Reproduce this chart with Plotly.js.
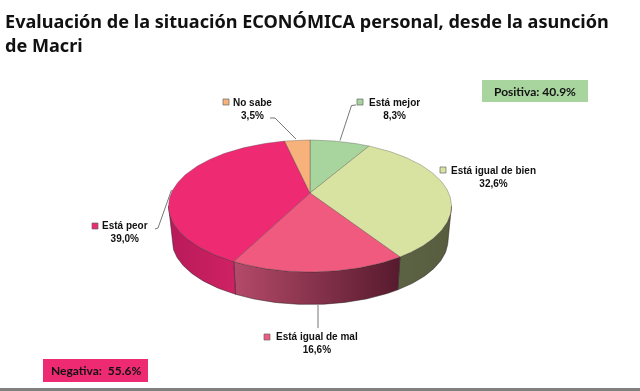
<!DOCTYPE html>
<html>
<head>
<meta charset="utf-8">
<script src="https://cdn.plot.ly/plotly-3.0.1.min.js"></script>
<style>html,body{margin:0;padding:0;background:#fff}#c{width:640px;height:391px;filter:blur(0.4px)}</style>
</head>
<body>
<div id="c"></div>
<script>
const categories = ['Está mejor', 'Está igual de bien', 'Está igual de mal', 'Está peor', 'No sabe'];
const values = [8.3, 32.6, 16.6, 39.0, 3.5];
const titleText = 'Evaluación de la situación ECONÓMICA personal, desde la asunción<br>de Macri';
const positiveText = 'Positiva: 40.9%';
const negativeText = 'Negativa:  55.6%';

/* styles and layout */
const topColors = ['#a8d59e', '#d9e3a1', '#ef5a7e', '#ee2b72', '#f7b27c'];
const wallScales = [
  null,
  ['#5c6344', '#575c3e'],
  ['#b44a69', '#571a2e'],
  ['#b81a5a', '#cf2264'],
  null
];
const swatches = [[360, 102], [443, 170], [267, 337], [95, 226], [226, 102]];
const labelPos = [[394.5, 108.5], [493, 176.5], [317, 343], [125, 232], [252, 108.5]];
const leaders = [
  [[340, 351.5, 356], [140.5, 105.5, 105]],
  [[296, 275, 270], [139, 118, 118]],
  [[171.5, 158, 155], [190, 228, 229]],
  [[318, 318], [305, 328]]
];

/* projection of the tilted disc */
const cx = 310, cy = 193, A = 138.7, B = 63.4, k = 0.197, depth = 34.5, shrink = 0.975;
const rim = (deg, lower) => {
  const t = deg * Math.PI / 180, u = Math.sin(t), v = Math.cos(t), w = 1 + k * v;
  const s = lower ? shrink : 1;
  return [cx + s * A * u / w, cy + (lower ? depth : 0) - s * B * v / w];
};
const arc = (a, b, lower) => {
  const n = Math.max(2, Math.ceil(Math.abs(b - a))), pts = [];
  for (let i = 0; i <= n; i++) pts.push(rim(a + (b - a) * i / n, lower));
  return pts;
};

const total = values.reduce((s, v) => s + v, 0);
let acc = 0;
const spans = values.map(v => { const a = acc; acc += v; return [a / total * 360, acc / total * 360]; });

const sideR = 90 + Math.asin(k) * 180 / Math.PI, sideL = 360 - sideR;
const traces = [];

spans.forEach((sp, i) => {
  if (!wallScales[i]) return;
  const a = Math.max(sp[0], sideR), b = Math.min(sp[1], sideL);
  const pts = arc(a, b, false).concat(arc(b, a, true));
  pts.push(pts[0]);
  traces.push({
    type: 'scatter', mode: 'lines', x: pts.map(p => p[0]), y: pts.map(p => p[1]),
    fill: 'toself', line: {color: 'rgba(50,30,35,0.75)', width: 0.7},
    fillgradient: {type: 'horizontal', colorscale: [[0, wallScales[i][0]], [1, wallScales[i][1]]]},
    hoverinfo: 'skip', showlegend: false
  });
});

spans.forEach((sp, i) => {
  const pts = [[cx, cy]].concat(arc(sp[0], sp[1], false));
  pts.push([cx, cy]);
  traces.push({
    type: 'scatter', mode: 'lines', x: pts.map(p => p[0]), y: pts.map(p => p[1]),
    fill: 'toself', fillcolor: topColors[i], line: {color: 'rgba(70,60,60,0.55)', width: 0.6},
    name: categories[i], hoverinfo: 'skip', showlegend: false
  });
});

leaders.forEach(l => traces.push({
  type: 'scatter', mode: 'lines', x: l[0], y: l[1],
  line: {color: '#777', width: 1}, hoverinfo: 'skip', showlegend: false
}));

traces.push({
  type: 'scatter', mode: 'markers',
  x: swatches.map(p => p[0]), y: swatches.map(p => p[1]),
  marker: {symbol: 'square', size: 6, color: topColors, line: {color: '#666', width: 0.7}},
  hoverinfo: 'skip', showlegend: false
});

const annotations = categories.map((c, i) => ({
  xref: 'x', yref: 'y', x: labelPos[i][0], y: labelPos[i][1],
  text: '<b>' + c + '<br>' + values[i].toFixed(1).replace('.', ',') + '%</b>',
  showarrow: false, xanchor: 'center', yanchor: 'middle', align: 'center',
  font: {family: 'Liberation Sans', size: 10, color: '#111'}
}));
const boxText = (t, x, y) => ({
  xref: 'x', yref: 'y', x, y, text: '<b>' + t + '</b>', showarrow: false,
  xanchor: 'center', yanchor: 'middle',
  font: {family: 'Lato', size: 12, color: '#111'}
});
annotations.push(boxText(positiveText, 535, 91));
annotations.push(boxText(negativeText, 95.5, 370.5));
annotations.push({
  xref: 'x', yref: 'y', x: 2.5, y: 7, text: '<b>' + titleText + '</b>', showarrow: false,
  xanchor: 'left', yanchor: 'top', align: 'left',
  font: {family: 'Noto Sans', size: 18.1, color: '#111'}
});

const rect = (x0, y0, x1, y1, color) => ({
  type: 'rect', xref: 'x', yref: 'y', x0, y0, x1, y1, fillcolor: color, line: {width: 0}, layer: 'below'
});

const layout = {
  width: 640, height: 391,
  margin: {l: 0, r: 0, t: 0, b: 0},
  paper_bgcolor: '#fff', plot_bgcolor: '#fff',
  showlegend: false,
  xaxis: {range: [0, 640], visible: false, fixedrange: true},
  yaxis: {range: [391, 0], visible: false, fixedrange: true},
  shapes: [
    rect(482, 80, 588, 102, '#a8d59e'),
    rect(43, 359, 148, 382, '#ee2b72'),
    rect(0, 388, 640, 391, '#808080')
  ],
  annotations
};
Plotly.newPlot('c', traces, layout, {displayModeBar: false, staticPlot: true});
</script>
</body>
</html>
